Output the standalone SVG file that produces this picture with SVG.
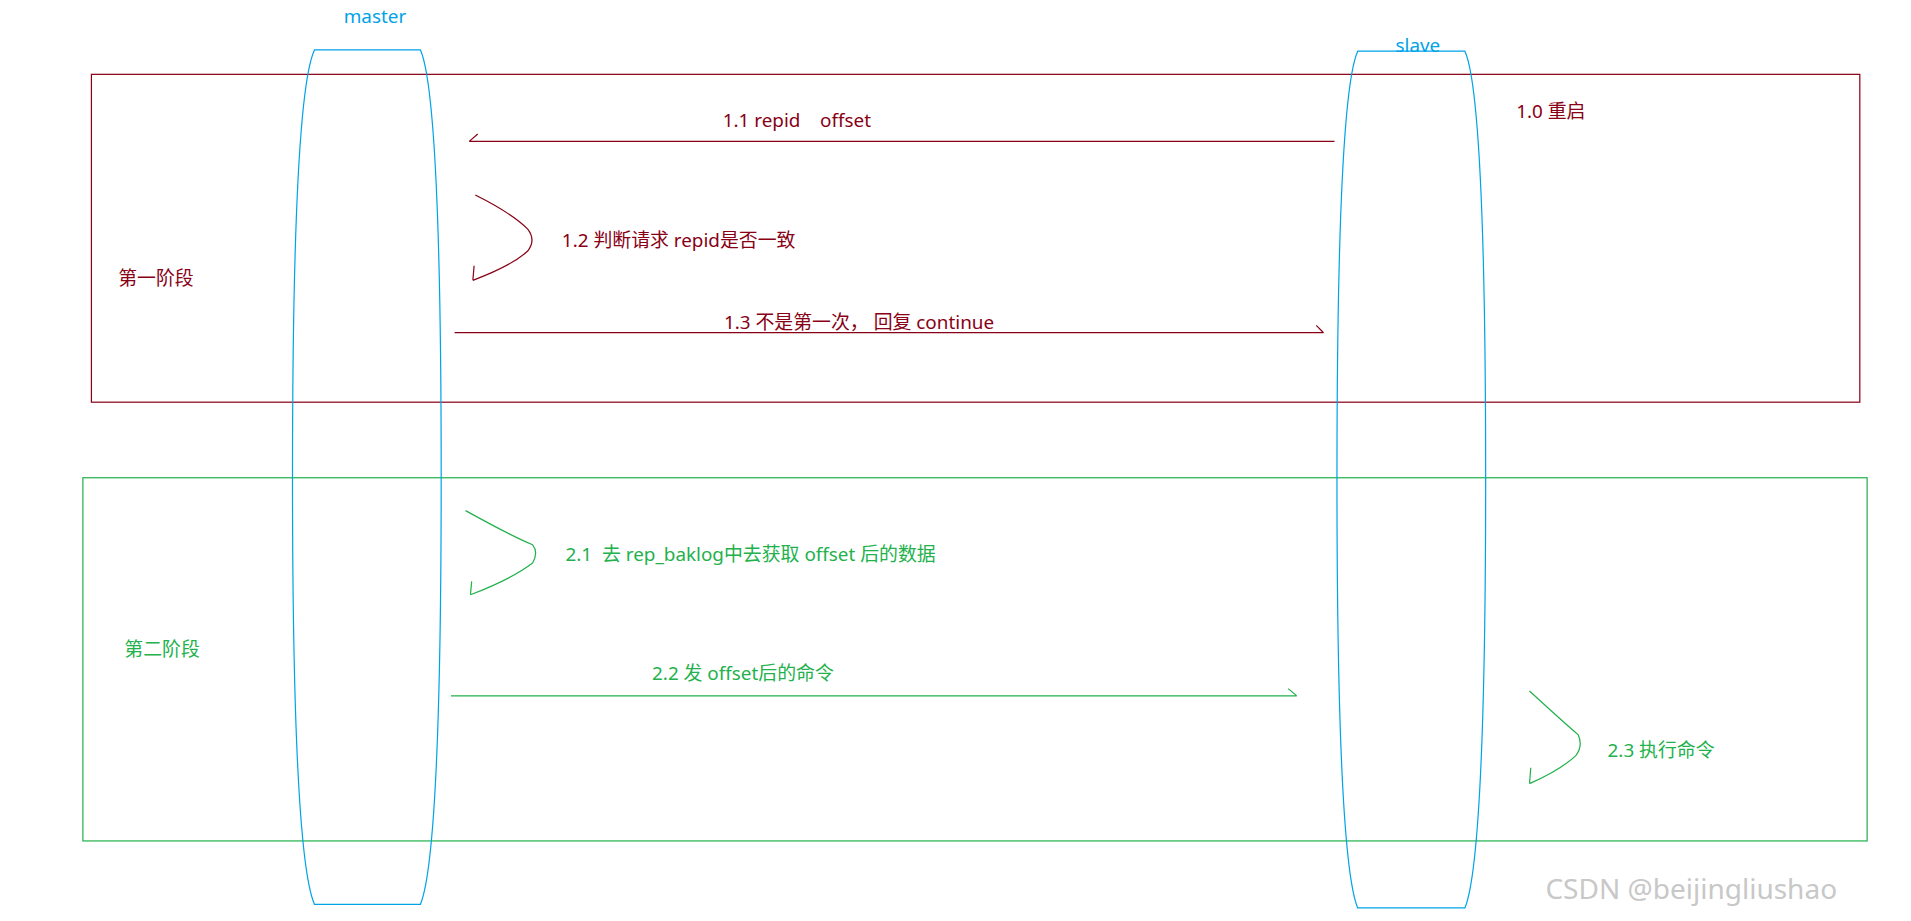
<svg xmlns="http://www.w3.org/2000/svg" width="1911" height="921" viewBox="0 0 1911 921">
<style>
text{font-family:"Noto Sans","Noto Sans CJK SC",sans-serif;font-size:15.5px;white-space:pre}
.b{fill:none;stroke:#00a2e8;stroke-width:1}
.r{fill:none;stroke:#880015;stroke-width:1}
.g{fill:none;stroke:#22b14c;stroke-width:1}
.tb{fill:#00a2e8}.tr{fill:#880015}.tg{fill:#22b14c}
</style>
<rect width="1911" height="921" fill="#fff"/>
<g transform="scale(1.21875)">
<g id="phase1"><rect class="r" x="75" y="61" width="1451" height="269"/><text class="tr" x="97" y="234">第一阶段</text></g>
<g id="phase2"><rect class="g" x="68" y="392" width="1464" height="298"/><text class="tg" x="102" y="538">第二阶段</text></g>
<g id="master"><path class="b" d="M258,41 L345,41 Q362,80 362,391 Q362,700 345,742 L258,742 Q240,700 240,391 Q240,80 258,41 Z"/><text class="tb" x="282" y="19">master</text></g>
<g id="slave"><path class="b" d="M1114,42 L1202,42 Q1219,80 1219,393 Q1219,703 1202,745 L1114,745 Q1097,703 1097,393 Q1097,80 1114,42 Z"/><text class="tb" x="1145" y="43">slave</text></g>
<g id="restart"><text class="tr" x="1244" y="97">1.0 重启</text></g>
<g id="connectors">
<path class="r" d="M1095,116 L385,116 M385,116 L392,110"/>
<path class="r" d="M390,160 Q420,175 433,188 Q440,197 433,206 Q420,218 388,230 M388,230 L389,218"/>
<path class="r" d="M373,273 L1086,273 M1086,273 L1080,267"/>
<path class="g" d="M382,419 Q420,440 437,447 Q442,453 437,462 Q420,475 386,488 M386,488 L387,477"/>
<path class="g" d="M370,571 L1064,571 M1064,571 L1057,565"/>
<path class="g" d="M1255,567 Q1280,590 1295,603 Q1299,612 1293,620 Q1280,632 1255,643 M1255,643 L1256,630"/>
</g>
<g id="labels">
<text class="tr" x="593" y="104" xml:space="preserve">1.1 repid    offset</text>
<text class="tr" x="461" y="203">1.2 判断请求 repid是否一致</text>
<text class="tr" x="594" y="270">1.3 不是第一次， 回复 continue</text>
<text class="tg" x="464" y="460" xml:space="preserve">2.1  去 rep_baklog中去获取 offset 后的数据</text>
<text class="tg" x="535" y="558">2.2 发 offset后的命令</text>
<text class="tg" x="1319" y="621">2.3 执行命令</text>
</g>
<text x="1268" y="738" style="font-size:23px;fill:#c8c8c8">CSDN @beijingliushao</text>
</g>
</svg>
